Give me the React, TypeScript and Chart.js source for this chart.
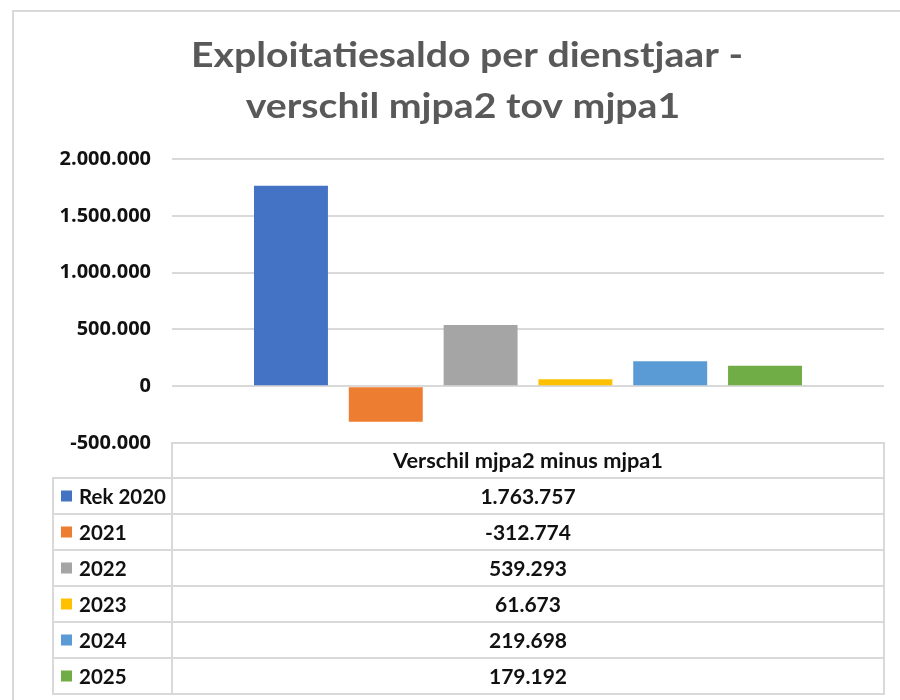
import React, { useEffect, useRef } from "react";
import { Chart, registerables } from "chart.js";

Chart.register(...registerables);

const titleLines = ["Exploitatiesaldo per dienstjaar -", "verschil mjpa2 tov mjpa1"];
const categoryLabels = ["Verschil mjpa2 minus mjpa1"];
const seriesNames = ["Rek 2020", "2021", "2022", "2023", "2024", "2025"];
const seriesValues = [1763757, -312774, 539293, 61673, 219698, 179192];
const seriesColors = ["#4472C4", "#ED7D31", "#A5A5A5", "#FFC000", "#5B9BD5", "#70AD47"];
const yMin = -500000;
const yMax = 2000000;
const yStep = 500000;

function fmt(v: number): string {
  const s = Math.abs(Math.round(v))
    .toString()
    .replace(/\B(?=(\d{3})+(?!\d))/g, ".");
  return (v < 0 ? "-" : "") + s;
}

const BORDER = "#d9d9d9";
const TEXT = "#111111";
const CAL = "Lato, 'Open Sans', sans-serif";

const framePlugin = {
  id: "frameAndTable",
  beforeDraw(chart: any) {
    const ctx = chart.ctx as CanvasRenderingContext2D;
    ctx.save();
    ctx.fillStyle = "#ffffff";
    ctx.fillRect(0, 0, chart.width, chart.height);
    ctx.strokeStyle = BORDER;
    ctx.lineWidth = 2;
    ctx.beginPath();
    ctx.moveTo(13, chart.height);
    ctx.lineTo(13, 11);
    ctx.lineTo(chart.width, 11);
    ctx.stroke();
    ctx.restore();
  },
  afterDraw(chart: any) {
    const ctx = chart.ctx as CanvasRenderingContext2D;
    const area = chart.chartArea;
    ctx.save();

    // Title
    ctx.fillStyle = "#595959";
    ctx.font = `bold 35px ${CAL}`;
    ctx.textAlign = "center";
    ctx.textBaseline = "alphabetic";
    const w0 = ctx.measureText(titleLines[0]).width;
    const sx = 552 / w0;
    const titleY = [67, 118];
    const titleX = [467, 463];
    titleLines.forEach((line, i) => {
      ctx.save();
      ctx.translate(titleX[i], titleY[i]);
      ctx.scale(sx, 1);
      ctx.fillText(line, 0, 0);
      ctx.restore();
    });

    // Data table
    const left = area.left;
    const right = area.right;
    const top = area.bottom;
    const headerH = 35;
    const rowH = 36;
    const keyLeft = 53;
    ctx.strokeStyle = BORDER;
    ctx.lineWidth = 2;
    ctx.strokeRect(left, top, right - left, headerH);
    seriesNames.forEach((_, i) => {
      const y = top + headerH + i * rowH;
      ctx.strokeRect(keyLeft, y, right - keyLeft, rowH);
      ctx.beginPath();
      ctx.moveTo(left, y);
      ctx.lineTo(left, y + rowH);
      ctx.stroke();
    });

    ctx.fillStyle = TEXT;
    ctx.font = `bold 21px ${CAL}`;
    ctx.textBaseline = "middle";
    ctx.textAlign = "center";
    const cx = (left + right) / 2;
    ctx.save();
    ctx.translate(cx, top + headerH / 2 + 1);
    const hw = ctx.measureText(categoryLabels[0]).width;
    ctx.scale(270 / hw, 1);
    ctx.fillText(categoryLabels[0], 0, 0);
    ctx.restore();
    const nameScale = Math.min(1, 87 / ctx.measureText(seriesNames[0]).width);
    seriesNames.forEach((name, i) => {
      const cy = top + headerH + i * rowH + rowH / 2 + 1;
      ctx.textAlign = "center";
      ctx.fillStyle = TEXT;
      ctx.fillText(fmt(seriesValues[i]), cx, cy);
      ctx.fillStyle = seriesColors[i];
      ctx.fillRect(61, cy - 6.5, 11, 11);
      ctx.fillStyle = TEXT;
      ctx.textAlign = "left";
      ctx.save();
      ctx.translate(79, cy);
      ctx.scale(nameScale, 1);
      ctx.fillText(name, 0, 0);
      ctx.restore();
    });
    ctx.restore();
  },
};

export default function App() {
  const canvasRef = useRef<HTMLCanvasElement | null>(null);

  useEffect(() => {
    const canvas = canvasRef.current;
    if (!canvas) return;
    const chart = new Chart(canvas, {
      type: "bar",
      data: {
        labels: categoryLabels,
        datasets: seriesNames.map((name, i) => ({
          label: name,
          data: [seriesValues[i]],
          backgroundColor: seriesColors[i],
          borderWidth: 0,
          categoryPercentage: 0.799,
          barPercentage: 0.78,
        })),
      },
      options: {
        responsive: false,
        animation: false,
        devicePixelRatio: 1,
        layout: { padding: { top: 159, bottom: 257, left: 0, right: 16 } },
        plugins: {
          legend: { display: false },
          title: { display: false },
          tooltip: { enabled: false },
        },
        scales: {
          x: {
            type: "category",
            display: false,
          },
          y: {
            min: yMin,
            max: yMax,
            afterFit(scale: any) {
              scale.width = 172;
            },
            border: { display: false },
            grid: {
              color: BORDER,
              lineWidth: 2,
              drawTicks: false,
            },
            ticks: {
              stepSize: yStep,
              padding: 21,
              color: TEXT,
              font: { family: "'Open Sans', sans-serif", weight: "bold", size: 20 },
              callback: (v: any) => fmt(Number(v)),
            },
          },
        },
      },
      plugins: [framePlugin],
    });
    return () => chart.destroy();
  }, []);

  return (
    <div style={{ position: "absolute", left: 0, top: 0, width: 900, height: 700 }}>
      <canvas ref={canvasRef} width={900} height={700} style={{ display: "block" }} />
    </div>
  );
}
